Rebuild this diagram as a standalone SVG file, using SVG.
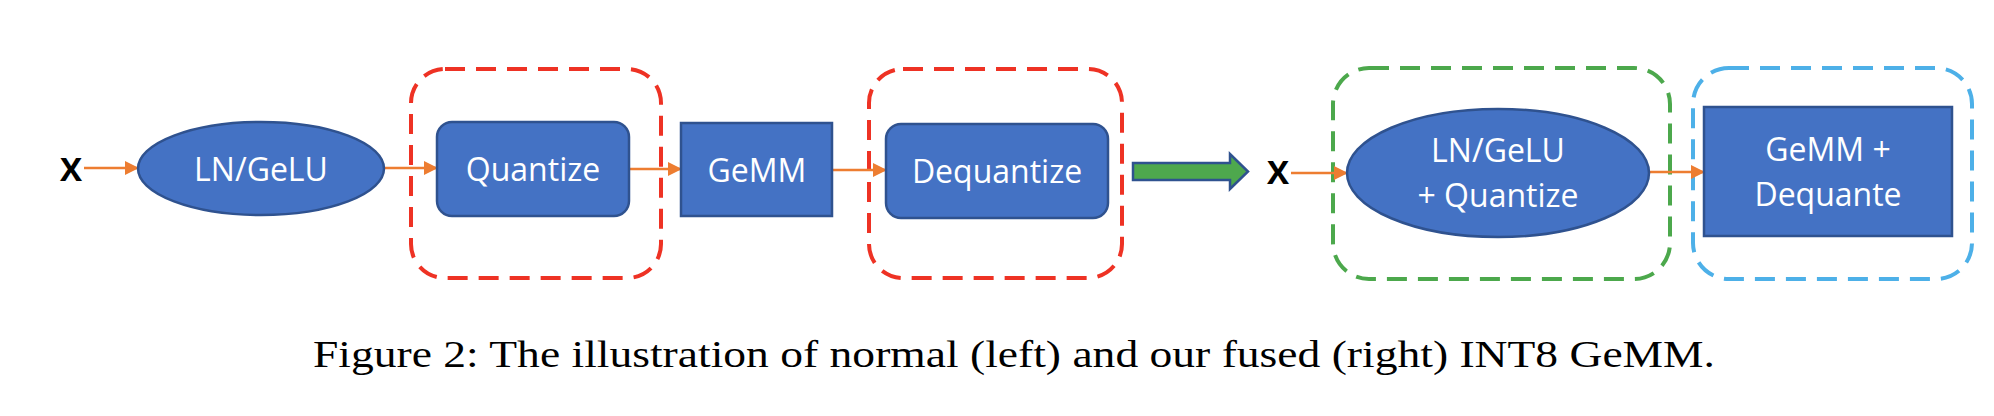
<svg xmlns="http://www.w3.org/2000/svg" width="1994" height="416" viewBox="0 0 1994 416">
<defs>
<marker id="ah" viewBox="0 0 14 14" refX="13" refY="7" markerWidth="14" markerHeight="14" markerUnits="userSpaceOnUse" orient="auto">
<path d="M0,0 L14,7 L0,14 z" fill="#ED7D31"/>
</marker>
</defs>
<style>
.node{fill:#4472C4;stroke:#2F528F;stroke-width:2.5}
.lbl{font-family:"Open Sans",sans-serif;font-size:32px;fill:#fff;text-anchor:middle}
.x{font-family:"Open Sans",sans-serif;font-size:33px;font-weight:bold;fill:#000;text-anchor:middle}
.dash{fill:none;stroke-width:4;stroke-dasharray:20 11}
.conn{stroke:#ED7D31;stroke-width:2.5;fill:none;marker-end:url(#ah)}
.cap{font-family:"Liberation Serif",serif;font-size:38px;fill:#000}
</style>
<rect width="1994" height="416" fill="#fff"/>
<g id="group-quantize"><rect class="dash" x="411" y="69" width="250" height="209" rx="34" stroke="#EE3224"/></g>
<g id="group-dequantize"><rect class="dash" x="869" y="69" width="253" height="209" rx="34" stroke="#EE3224"/></g>
<g id="group-fused-ln"><rect class="dash" x="1333" y="68" width="337" height="211" rx="36" stroke="#4CA84C"/></g>
<g id="group-fused-gemm"><rect class="dash" x="1693" y="68" width="279" height="211" rx="36" stroke="#4DB0E8"/></g>
<g id="connectors">
<line class="conn" x1="84" y1="168" x2="138" y2="168"/>
<line class="conn" x1="384" y1="168" x2="437" y2="168"/>
<line class="conn" x1="629" y1="169" x2="681" y2="169"/>
<line class="conn" x1="832" y1="170" x2="886" y2="170"/>
<line class="conn" x1="1291" y1="173" x2="1347" y2="173"/>
<line class="conn" x1="1649" y1="172" x2="1704" y2="172"/>
<path d="M1133,163 L1230,163 L1230,154 L1248,171.5 L1230,189 L1230,180 L1133,180 z" fill="#4EA84D" stroke="#2F528F" stroke-width="2.5"/>
</g>
<g id="x1"><text class="x" x="71" y="181">X</text></g>
<g id="ln-gelu"><ellipse class="node" cx="261" cy="168.5" rx="123" ry="46.5"/><text class="lbl" x="261" y="181">LN/GeLU</text></g>
<g id="quantize"><rect class="node" x="437" y="122" width="192" height="94" rx="15"/><text class="lbl" x="533" y="181">Quantize</text></g>
<g id="gemm"><rect class="node" x="681" y="123" width="151" height="93" stroke-width="3"/><text class="lbl" x="757" y="182">GeMM</text></g>
<g id="dequantize"><rect class="node" x="886" y="124" width="222" height="94" rx="15"/><text class="lbl" x="997" y="183">Dequantize</text></g>
<g id="x2"><text class="x" x="1278" y="184">X</text></g>
<g id="ln-gelu-quantize"><ellipse class="node" cx="1498" cy="173" rx="151" ry="64"/><text class="lbl" x="1498" y="162">LN/GeLU</text><text class="lbl" x="1498" y="207">+ Quantize</text></g>
<g id="gemm-dequante"><rect class="node" x="1704" y="107" width="248" height="129" stroke-width="4"/><text class="lbl" x="1828" y="161">GeMM +</text><text class="lbl" x="1828" y="206">Dequante</text></g>
<g id="caption"><text class="cap" x="313" y="367" textLength="1402" lengthAdjust="spacingAndGlyphs">Figure 2: The illustration of normal (left) and our fused (right) INT8 GeMM.</text></g>
</svg>
